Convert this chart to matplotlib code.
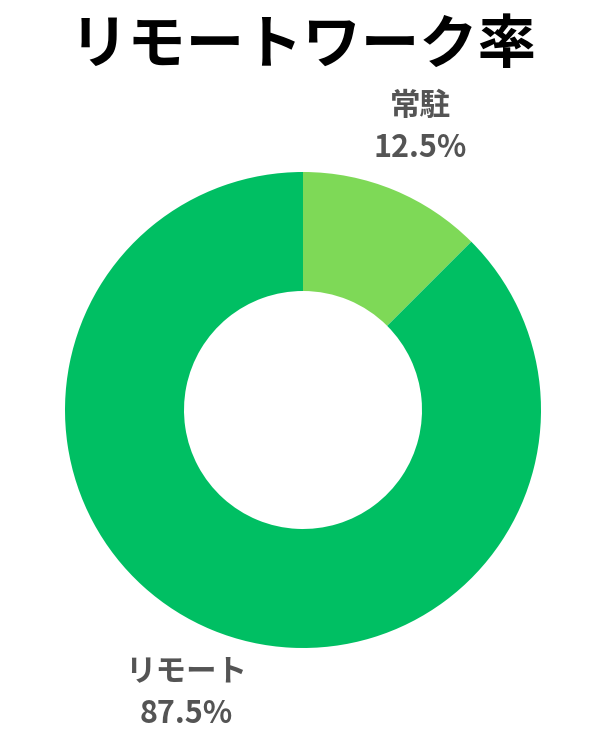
import matplotlib.pyplot as plt

plt.rcParams['font.family'] = ['Noto Sans CJK JP', 'DejaVu Sans']

title = 'リモートワーク率'
labels = ['常駐', 'リモート']
shares = [12.5, 87.5]
colors = ['#7ED957', '#00BF63']

fig = plt.figure(figsize=(6.03, 7.46), dpi=100, facecolor='white')
fig.text(0.503, 0.939, title, ha='center', va='center', fontsize=42,
         fontweight='bold', color='black')

# pie centre at (303, 410) px, radius 238 px
ax = fig.add_axes([(303 - 238) / 603, (746 - 648) / 746, 476 / 603, 476 / 746])
texts = ax.pie(shares, colors=colors, startangle=90, counterclock=False,
               labels=[f'{l}\n{v}%' for l, v in zip(labels, shares)],
               labeldistance=1.285, radius=1,
               wedgeprops=dict(width=0.5, linewidth=0),
               textprops=dict(fontsize=22, fontweight='bold', color='#545454',
                              linespacing=1.4))[1]
for t in texts:
    t.set_ha('center')
    t.set_va('center')
ax.set_xlim(-1, 1)
ax.set_ylim(-1, 1)
ax.set_aspect('equal')
ax.axis('off')

fig.savefig('out.png', dpi=100, facecolor='white')
